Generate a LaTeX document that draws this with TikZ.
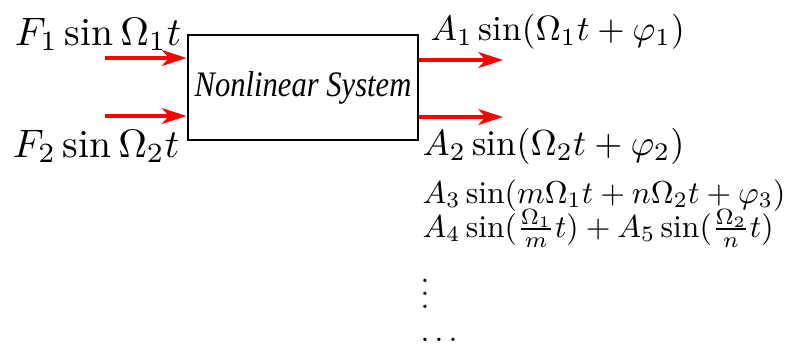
\documentclass[tikz,border=0pt]{standalone}
\usepackage{fontspec}
\newfontfamily\sysfont[UprightFont=*-Italic,Extension=.ttf]{LiberationSerif}
\usetikzlibrary{arrows.meta}

\begin{document}
\begin{tikzpicture}[x=0.01cm,y=-0.01cm,
  sig/.style={-{Stealth[length=7pt,width=4.5pt,inset=2pt]},red,line width=1pt}]
\useasboundingbox (0,0) rectangle (786,345);
\node[draw,line width=0.8pt,minimum width=2.3cm,minimum height=1.05cm,inner sep=0pt] (sys) at (303,87.5) {\scalebox{0.87}[1.02]{\sysfont Nonlinear System}};
% inputs
\coordinate (in1) at (105,58);
\coordinate (in2) at (105,116);
\draw[sig] (in1) -- (in1 -| sys.west);
\draw[sig] (in2) -- (in2 -| sys.west);
\node[anchor=base,scale=1.13] (f1) at (98,45) {$F_1\sin\Omega_1 t$};
\node[anchor=base,scale=1.13] (f2) at (96,157) {$F_2\sin\Omega_2 t$};
% outputs
\coordinate (out1) at (503,60);
\coordinate (out2) at (503,117);
\draw[sig] (sys.east |- out1) -- (out1);
\draw[sig] (sys.east |- out2) -- (out2);
\node[anchor=base west,inner sep=0pt,scale=1.0] (a1) at (430,40) {$A_1\sin(\Omega_1 t+\varphi_1)$};
\node[anchor=base west,inner sep=0pt,scale=1.03] (a2) at (422,155) {$A_2\sin(\Omega_2 t+\varphi_2)$};
\node[anchor=base west,inner sep=0pt,scale=0.9] (a3) at (422,203) {$A_3\sin(m\Omega_1 t+n\Omega_2 t+\varphi_3)$};
\node[anchor=base west,inner sep=0pt,scale=0.9] (a4) at (422,237) {$A_4\sin(\frac{\Omega_1}{m}t)+A_5\sin(\frac{\Omega_2}{n}t)$};
\node[anchor=base west,inner sep=0pt,scale=0.9] (vd) at (420,308) {$\vdots$};
\node[anchor=base west,inner sep=0pt,scale=0.9] (hd) at (420,341) {$\dots$};
\end{tikzpicture}
\end{document}
